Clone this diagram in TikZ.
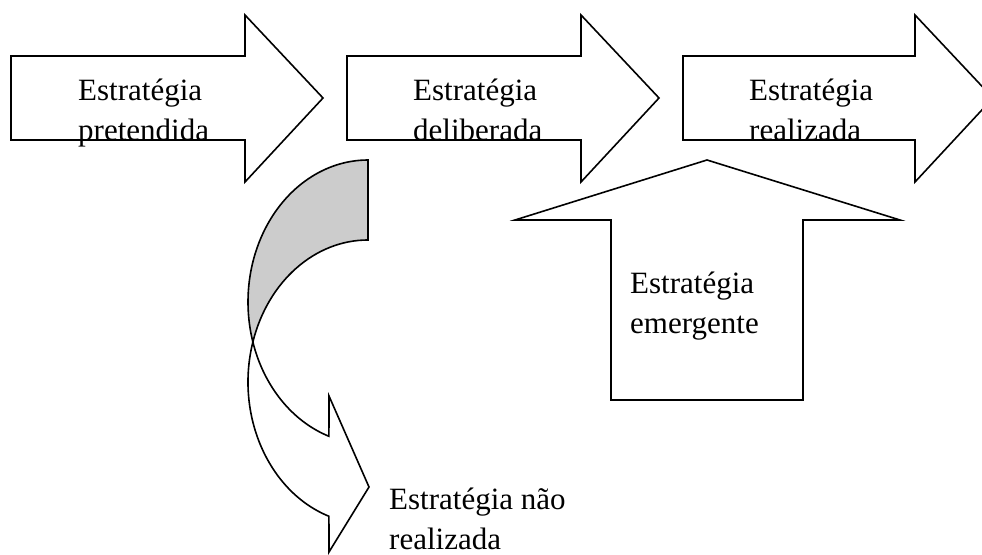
\documentclass[tikz,border=0pt]{standalone}
\usepackage{fontspec}
\setmainfont{Liberation Serif}
\usetikzlibrary{positioning}

\begin{document}
\begin{tikzpicture}[
    x=1pt, y=-1pt,
    % --- STYLES ---
    blockline/.style={draw=black, line width=1.6pt, line join=miter},
    backside/.style={blockline, fill=black!20},
    arrowtext/.style={
        anchor=base west, inner sep=0pt,
        align=left,
        font=\fontsize{31}{40}\selectfont
    }
]
\clip (0,0) rectangle (982,554);

% ===== 1. STRAIGHT ARROWS =====
\foreach \xl/\xh/\xt in {11/245/323, 347/581/659, 683/915/993}
    \draw[blockline] (\xl,56) -- (\xh,56) -- (\xh,15) -- (\xt,98)
        -- (\xh,182) -- (\xh,140) -- (\xl,140) -- cycle;

% Seta para cima (emergente)
\draw[blockline] (611,400) -- (611,220) -- (515,220) -- (707,160)
    -- (900,220) -- (803,220) -- (803,400) -- cycle;

% ===== 2. CURVED ARROW =====
% parte de tras (cinza)
\draw[backside] (368,160)
    arc[start angle=-90, end angle=-196.36, x radius=120, y radius=142]
    arc[start angle=-163.64, end angle=-90, x radius=120, y radius=142]
    -- cycle;
% parte da frente com a ponta
\draw[blockline] ([shift={(368,382)}]-251:120 and 142)
    arc[start angle=-251, end angle=-163.64, x radius=120, y radius=142]
    arc[start angle=-196.36, end angle=-251, x radius=120, y radius=142]
    -- (329,396) -- (369,487) -- (329,552) -- cycle;

% ===== 3. TEXTS =====
% (base = linha de base da ultima linha)
\node[arrowtext] (pret) at (78,140) {Estratégia\\pretendida};
\node[arrowtext] (delib) at (413,140) {Estratégia\\deliberada};
\node[arrowtext] (real) at (749,140) {Estratégia\\realizada};
\node[arrowtext] (emerg) at (630,333) {Estratégia\\emergente};
\node[arrowtext] (naoreal) at (389,549) {Estratégia não\\realizada};

\end{tikzpicture}
\end{document}
